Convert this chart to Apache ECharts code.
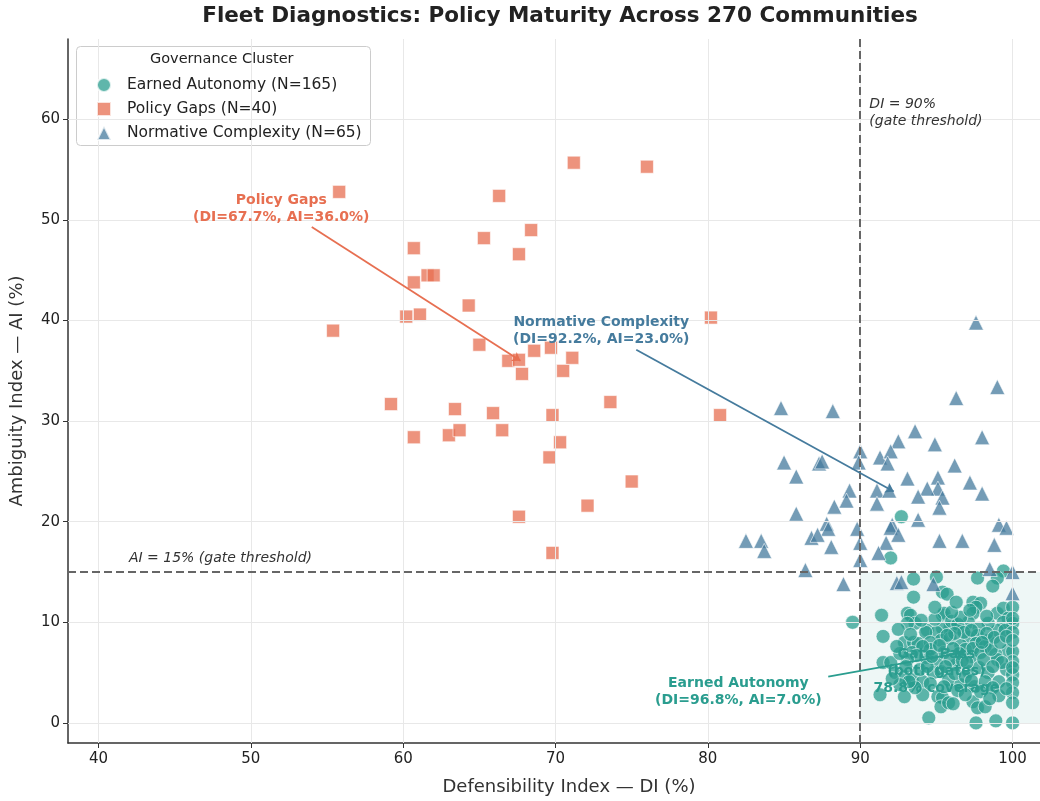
<!DOCTYPE html>
<html>
<head>
<meta charset="utf-8">
<script src="https://cdn.jsdelivr.net/npm/echarts@6/dist/echarts.min.js"></script>
<style>
  html, body { margin: 0; padding: 0; background: #fff; }
  #chart { width: 1040px; height: 801px; }
</style>
</head>
<body>
<div id="chart"></div>
<script>
// tick labels
const xTicks = [40, 50, 60, 70, 80, 90, 100];
const yTicks = [0, 10, 20, 30, 40, 50, 60];

// thresholds
const diGate = 90;
const aiGate = 15;

// [DI, AI] per community
const earnedAutonomy = [
  [89.5,10.0],[92.7,20.5],[92.0,16.4],[93.5,14.3],[95.0,14.5],[97.7,14.4],[99.4,15.1],[99.0,14.4],[98.7,13.6],[93.5,12.5],[95.4,13.0],[95.7,12.8],
  [91.4,10.7],[93.1,10.9],[93.3,10.7],[93.6,9.9],[93.1,9.9],[95.4,10.7],[95.5,10.9],[97.4,12.0],[97.9,11.9],[97.6,11.5],
  [97.4,10.9],[99.0,10.9],[99.4,11.4],[100.0,11.5],[99.7,10.4],[99.4,10.0],[100.0,9.9],[99.0,9.2],[99.5,9.2],[100.0,9.0],
  [97.1,10.0],[98.4,9.9],[97.8,9.4],[95.9,9.5],[95.4,9.4],[96.5,9.4],[94.4,9.2],[95.0,9.0],[94.3,9.0],[91.5,8.6],
  [92.9,8.0],[93.5,8.0],[95.3,8.2],[95.9,8.4],[97.1,8.5],[97.7,8.7],[98.4,8.2],
  [93.8,7.9],[94.6,8.0],[96.6,7.7],[97.6,7.9],[98.2,7.6],[99.7,7.2],[100.0,7.1],[98.9,6.8],[99.0,6.3],[100.0,6.1],
  [91.5,6.0],[92.0,6.0],[93.4,7.0],[94.3,6.5],[95.0,6.1],[95.5,7.0],[96.3,5.8],[97.1,5.1],[97.3,6.6],[97.8,5.5],
  [98.4,5.0],[99.6,5.3],[100.0,4.8],[92.3,5.0],[92.9,4.6],[93.4,4.3],[94.1,4.1],[94.8,5.0],[95.3,5.1],[95.8,4.3],
  [96.6,3.8],[97.5,3.6],[98.2,4.1],[99.1,4.1],[98.7,3.5],[100.0,4.0],[91.3,2.8],[92.9,2.6],[94.1,2.8],[95.1,2.6],
  [95.4,2.5],[95.3,1.6],[95.8,2.0],[97.4,2.1],[97.7,1.5],[98.2,1.6],[100.0,3.0],[100.0,2.0],[94.5,0.5],[97.6,0.0],[98.9,0.2],[100.0,0.0],
  [96.0,10.1],[96.4,9.8],[96.8,9.0],[96.2,8.9],[95.7,8.7],[96.9,7.3],[96.5,6.9],[96.1,7.4],[95.9,6.3],[96.7,6.2],
  [97.4,7.4],[97.9,7.0],[98.1,6.3],[98.6,7.3],[98.3,8.9],[98.8,8.5],[97.3,9.2],[96.6,10.5],[96.0,11.0],[94.9,10.3],
  [94.6,7.3],[94.1,7.6],[93.7,6.7],[93.1,6.3],[92.6,6.9],[92.4,7.6],[93.0,5.6],[93.9,5.3],[94.4,5.6],[95.6,5.6],
  [96.2,4.9],[96.9,4.6],[97.3,4.2],[97.9,3.1],[96.4,3.2],[95.5,3.6],[94.6,3.9],[93.6,3.5],[93.2,4.1],[92.6,3.8],
  [99.3,6.0],[99.2,8.0],[99.6,8.6],[100.0,10.4],[100.0,8.2],[100.0,5.5],[99.1,2.7],[98.5,2.4],[96.9,2.8],[96.1,1.9],
  [97.2,11.2],[98.3,10.6],[96.3,12.0],[94.0,10.2],[94.9,11.5],[92.5,9.3],[93.3,8.8],[94.7,6.6],[95.2,7.7],[97.0,6.0],
  [98.7,5.6],[99.6,3.4],[92.1,4.4],[98.0,8.0]
];

const policyGaps = [
  [55.8,52.8],[55.4,39.0],[59.2,31.7],[60.7,47.2],[60.7,43.8],[60.2,40.4],[61.1,40.6],[61.6,44.5],[62.0,44.5],[60.7,28.4],
  [63.0,28.6],[63.4,31.2],[63.7,29.1],[64.3,41.5],[65.3,48.2],[65.0,37.6],[65.9,30.8],[66.3,52.4],[66.5,29.1],[66.9,36.0],
  [67.6,36.1],[67.6,46.6],[67.8,34.7],[68.4,49.0],[68.6,37.0],[67.6,20.5],[69.7,37.3],[69.8,30.6],[69.6,26.4],[70.3,27.9],
  [70.5,35.0],[71.1,36.3],[71.2,55.7],[69.8,16.9],[72.1,21.6],[73.6,31.9],[75.0,24.0],[76.0,55.3],[80.2,40.3],[80.8,30.6]
];

const normativeComplexity = [
  [97.6,39.8],[99.0,33.4],[96.3,32.3],[84.8,31.3],[88.2,31.0],
  [93.6,29.0],[92.5,28.0],[94.9,27.7],[98.0,28.4],[90.0,27.0],[91.3,26.4],[92.0,27.0],[91.8,25.8],[89.9,25.9],[85.0,25.9],
  [87.3,25.8],[87.5,26.0],[85.8,24.5],[96.2,25.6],[97.2,23.9],[98.0,22.8],[93.1,24.3],[95.1,24.4],[95.1,23.3],[94.4,23.3],
  [93.8,22.5],[95.4,22.4],[95.2,21.4],[91.1,23.1],[91.9,23.1],[91.1,21.8],[89.3,23.1],[89.1,22.1],[88.3,21.5],[85.8,20.8],
  [93.8,20.2],[92.1,19.7],[92.0,19.4],[92.5,18.7],[91.7,17.9],[91.2,16.9],[87.8,19.8],[87.9,19.3],[89.8,19.3],[86.8,18.4],
  [87.2,18.7],[88.1,17.5],[90.0,17.9],[90.0,16.2],[82.5,18.1],[83.5,18.1],[83.7,17.1],[86.4,15.2],[88.9,13.8],[95.2,18.1],
  [96.7,18.1],[98.8,17.7],[99.1,19.7],[99.6,19.4],[98.5,15.3],[100.0,15.0],[92.4,13.9],[92.7,14.0],[94.8,13.8],[100.0,12.9]
];

const seriesNames = ['Earned Autonomy (N=165)', 'Policy Gaps (N=40)', 'Normative Complexity (N=65)'];
const colors = ['#2a9d8f', '#e76f51', '#457b9d'];

const font = 'DejaVu Sans';
const xMax = 101.8;
const chart = echarts.init(document.getElementById('chart'));

const option = {
  backgroundColor: '#fff',
  animation: false,
  textStyle: { fontFamily: font },
  title: {
    text: 'Fleet Diagnostics: Policy Maturity Across 270 Communities',
    left: 555,
    textAlign: 'center',
    top: 0,
    textStyle: { fontFamily: font, fontSize: 21.5, fontWeight: 'bold', color: '#222' }
  },
  grid: { left: 68, right: 0, top: 39, bottom: 58 },
  xAxis: {
    type: 'value',
    min: 38,
    max: xMax,
    name: 'Defensibility Index — DI (%)',
    nameLocation: 'middle',
    nameGap: 35,
    nameTextStyle: { fontFamily: font, fontSize: 18, color: '#333', padding: [0, 0, 0, 30] },
    axisLine: { onZero: false, lineStyle: { color: '#333', width: 1.5 } },
    axisTick: { show: true, length: 5, customValues: xTicks, lineStyle: { color: '#333' } },
    axisLabel: { customValues: xTicks, fontSize: 15, color: '#222', margin: 9 },
    splitLine: { show: false }
  },
  yAxis: {
    type: 'value',
    min: -2,
    max: 68,
    name: 'Ambiguity Index — AI (%)',
    nameLocation: 'middle',
    nameGap: 42,
    nameTextStyle: { fontFamily: font, fontSize: 18, color: '#333' },
    axisLine: { show: true, onZero: false, lineStyle: { color: '#333', width: 1.5 } },
    axisTick: { show: true, length: 5, customValues: yTicks, lineStyle: { color: '#333' } },
    axisLabel: { customValues: yTicks, fontSize: 15, color: '#222', margin: 8 },
    splitLine: { show: false }
  },
  legend: {
    orient: 'vertical',
    left: 91,
    top: 72,
    z: 6,
    itemWidth: 14,
    itemHeight: 14,
    itemGap: 8,
    data: [
      { name: seriesNames[0], icon: 'circle' },
      { name: seriesNames[1], icon: 'rect' },
      { name: seriesNames[2], icon: 'triangle' }
    ],
    textStyle: { fontFamily: font, fontSize: 15.5, color: '#222', padding: [0, 0, 0, 11], lineHeight: 16 }
  },
  graphic: [
    {
      type: 'rect',
      left: 76, top: 46,
      shape: { width: 294, height: 99, r: 4 },
      style: { fill: '#fff', stroke: '#cccccc', lineWidth: 1 },
      z: 5
    },
    {
      type: 'text',
      left: 150, top: 52,
      style: { text: 'Governance Cluster', font: '14.5px "DejaVu Sans"', fill: '#222' },
      z: 6
    }
  ],
  series: [
    // grid lines
    {
      type: 'scatter',
      data: [],
      silent: true,
      z: 0,
      markLine: {
        silent: true,
        symbol: 'none',
        label: { show: false },
        lineStyle: { color: '#e8e8e8', width: 1, type: 'solid' },
        data: xTicks.map(v => ({ xAxis: v })).concat(yTicks.map(v => ({ yAxis: v })))
      }
    },
    // gate zone, thresholds, notes
    {
      type: 'scatter',
      data: [],
      silent: true,
      z: 1,
      markArea: {
        silent: true,
        itemStyle: { color: 'rgba(42,157,143,0.08)' },
        data: [[{ coord: [diGate, 0] }, { coord: [xMax, aiGate] }]]
      },
      markLine: {
        silent: true,
        symbol: 'none',
        label: { show: false },
        lineStyle: { color: '#666', width: 2, type: [8, 4] },
        data: [{ xAxis: diGate }, { yAxis: aiGate }]
      },
      markPoint: {
        silent: true,
        symbol: 'circle',
        symbolSize: 0,
        data: [
          {
            coord: [90.6, 60.7],
            label: {
              show: true, position: 'right', distance: 0, align: 'left',
              formatter: 'DI = 90%\n(gate threshold)',
              fontStyle: 'italic', fontSize: 14, lineHeight: 17, color: '#333', fontFamily: font
            }
          },
          {
            coord: [42.0, 16.4],
            label: {
              show: true, position: 'right', distance: 0, align: 'left',
              formatter: 'AI = 15% (gate threshold)',
              fontStyle: 'italic', fontSize: 14, color: '#333', fontFamily: font
            }
          },
          {
            coord: [95.0, 5.1],
            label: {
              show: true, position: 'inside', align: 'center',
              formatter: 'Gate Pass\n(both gates)\n78.8% coverage',
              fontWeight: 'bold', fontSize: 14, lineHeight: 17, color: '#2a9d8f', fontFamily: font
            }
          }
        ]
      }
    },
    // annotation arrows and labels
    {
      type: 'scatter',
      data: [],
      silent: true,
      z: 2,
      markLine: {
        silent: true,
        symbol: ['none', 'arrow'],
        symbolSize: 8,
        label: { show: false },
        data: [
          [{ coord: [54.0, 49.3], lineStyle: { color: colors[1], width: 1.8, type: 'solid' } }, { coord: [67.7, 36.0] }],
          [{ coord: [75.3, 37.1], lineStyle: { color: colors[2], width: 1.8, type: 'solid' } }, { coord: [92.2, 23.0] }],
          [{ coord: [87.9, 4.6], lineStyle: { color: colors[0], width: 1.8, type: 'solid' } }, { coord: [96.8, 7.0] }]
        ]
      },
      markPoint: {
        silent: true,
        symbol: 'circle',
        symbolSize: 0,
        data: [
          {
            coord: [52.0, 51.1],
            label: { show: true, position: 'inside', align: 'center', formatter: 'Policy Gaps\n(DI=67.7%, AI=36.0%)',
              fontWeight: 'bold', fontSize: 14, lineHeight: 17, color: colors[1], fontFamily: font }
          },
          {
            coord: [73.0, 39.0],
            label: { show: true, position: 'inside', align: 'center', formatter: 'Normative Complexity\n(DI=92.2%, AI=23.0%)',
              fontWeight: 'bold', fontSize: 14, lineHeight: 17, color: colors[2], fontFamily: font }
          },
          {
            coord: [82.0, 3.1],
            label: { show: true, position: 'inside', align: 'center', formatter: 'Earned Autonomy\n(DI=96.8%, AI=7.0%)',
              fontWeight: 'bold', fontSize: 14, lineHeight: 17, color: colors[0], fontFamily: font }
          }
        ]
      }
    },
    {
      name: seriesNames[0],
      type: 'scatter',
      symbol: 'circle',
      symbolSize: 14,
      z: 3,
      itemStyle: { color: colors[0], opacity: 0.75, borderColor: '#fff', borderWidth: 0.8 },
      data: earnedAutonomy
    },
    {
      name: seriesNames[1],
      type: 'scatter',
      symbol: 'rect',
      symbolSize: 13,
      z: 3,
      itemStyle: { color: colors[1], opacity: 0.75, borderColor: '#fff', borderWidth: 0.8 },
      data: policyGaps
    },
    {
      name: seriesNames[2],
      type: 'scatter',
      symbol: 'triangle',
      symbolSize: 15,
      z: 3,
      itemStyle: { color: colors[2], opacity: 0.75, borderColor: '#fff', borderWidth: 0.8 },
      data: normativeComplexity
    }
  ]
};

chart.setOption(option);
</script>
</body>
</html>
